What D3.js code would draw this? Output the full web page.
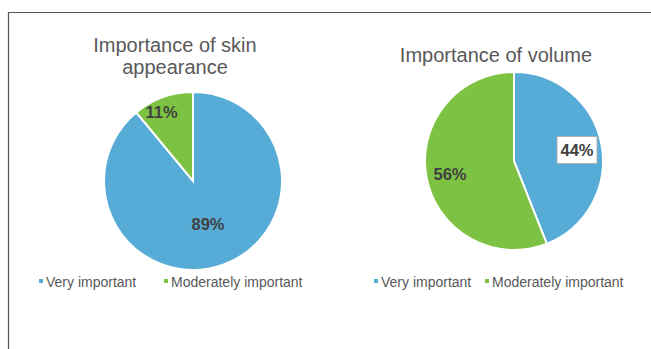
<!DOCTYPE html>
<html>
<head>
<meta charset="utf-8">
<script src="https://cdn.jsdelivr.net/npm/d3@7"></script>
<style>
  html, body { margin: 0; padding: 0; background: #fff; }
  svg { display: block; }
  text { font-family: "Liberation Sans", Arial, sans-serif; }
</style>
</head>
<body>
<svg id="chart" width="651" height="349"></svg>
<script>
// Category names and colours shared by both pies
const categories = ["Very important", "Moderately important"];
const colors = ["#56acd6", "#7dc242"];

// Percent shares for each pie
const skinValues = [89, 11];
const volumeValues = [44, 56];

const titles = [["Importance of skin", "appearance"], ["Importance of volume"]];

const svg = d3.select("#chart");

// Outer frame (top and left edges)
svg.append("path")
  .attr("d", "M8.5,349 L8.5,12.5 L651,12.5")
  .attr("fill", "none")
  .attr("stroke", "#555")
  .attr("stroke-width", 1.2);

const color = d3.scaleOrdinal().domain(categories).range(colors);

const pies = [
  { values: skinValues, title: titles[0], cx: 193, cy: 181, r: 89, titleX: 175, titleY: 52,
    labelPos: [[208, 224], [161.5, 111.5]], boxed: [false, false],
    legendMarks: [39, 164] },
  { values: volumeValues, title: titles[1], cx: 514, cy: 161, r: 89, titleX: 496, titleY: 62,
    labelPos: [[577, 150], [450, 174]], boxed: [true, false],
    legendMarks: [374, 485] }
];

const pie = d3.pie().sort(null).value(d => d.value);

pies.forEach(p => {
  const g = svg.append("g");
  const data = categories.map((c, i) => ({ name: c, value: p.values[i] }));
  const arcs = pie(data);
  const arc = d3.arc().innerRadius(0).outerRadius(p.r);

  // Title
  const t = g.append("text")
    .attr("x", p.titleX)
    .attr("y", p.titleY)
    .attr("text-anchor", "middle")
    .attr("fill", "#595959")
    .attr("font-size", 20);
  p.title.forEach((line, i) => {
    t.append("tspan").attr("x", p.titleX).attr("dy", i === 0 ? 0 : 21.5).text(line);
  });

  // Slices
  g.append("g")
    .attr("transform", `translate(${p.cx},${p.cy})`)
    .selectAll("path")
    .data(arcs)
    .join("path")
    .attr("d", arc)
    .attr("fill", d => color(d.data.name))
    .attr("stroke", "#fff")
    .attr("stroke-width", 2);

  // Percentage labels
  arcs.forEach((a, i) => {
    const [lx, ly] = p.labelPos[i];
    const label = a.data.value + "%";
    if (p.boxed[i]) {
      g.append("rect")
        .attr("x", lx - 20).attr("y", ly - 13.5)
        .attr("width", 40).attr("height", 27)
        .attr("fill", "#fff")
        .attr("stroke", "#b0b0b0")
        .attr("stroke-width", 1);
    }
    g.append("text")
      .attr("x", lx).attr("y", ly)
      .attr("text-anchor", "middle")
      .attr("dominant-baseline", "central")
      .attr("font-size", 16.5)
      .attr("font-weight", "bold")
      .attr("fill", "#404040")
      .text(label);
  });

  // Legend
  categories.forEach((c, i) => {
    const x = p.legendMarks[i];
    g.append("rect")
      .attr("x", x).attr("y", 279)
      .attr("width", 4).attr("height", 4)
      .attr("fill", color(c));
    g.append("text")
      .attr("x", x + 7).attr("y", 287)
      .attr("font-size", 14)
      .attr("fill", "#595959")
      .text(c);
  });
});
</script>
</body>
</html>
